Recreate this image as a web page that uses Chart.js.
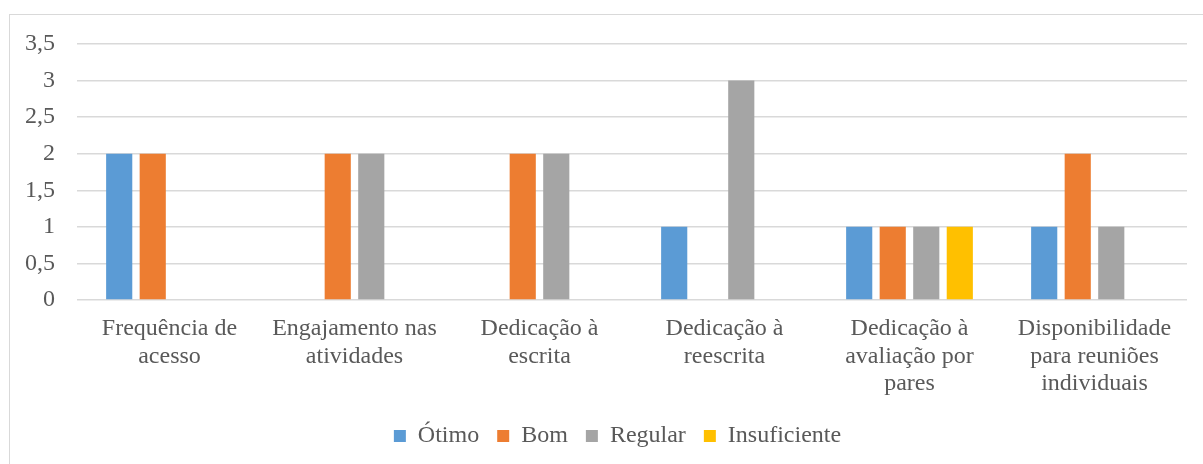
<!DOCTYPE html>
<html lang="pt">
<head>
<meta charset="UTF-8">
<title>Avaliação das atividades</title>
<script src="https://cdn.jsdelivr.net/npm/chart.js"></script>
<style>
  body { margin: 0; background: #fff; }
  #wrap { position: relative; width: 1203px; height: 464px; overflow: hidden; }
  #frame { position: absolute; left: 9px; top: 14px; width: 1200px; height: 470px; border: 1px solid #d9d9d9; box-sizing: border-box; }
  #grafico { position: absolute; left: 0; top: 0; }
</style>
</head>
<body>
<div id="wrap">
  <div id="frame"></div>
  <canvas id="grafico" width="1203" height="464"></canvas>
</div>
<script>
const categorias = [
  ['Frequência de', 'acesso'],
  ['Engajamento nas', 'atividades'],
  ['Dedicação à', 'escrita'],
  ['Dedicação à', 'reescrita'],
  ['Dedicação à', 'avaliação por', 'pares'],
  ['Disponibilidade', 'para reuniões', 'individuais']
];
const otimo = [2, 0, 0, 1, 1, 1];
const bom = [2, 2, 2, 0, 1, 2];
const regular = [0, 2, 2, 3, 1, 1];
const insuficiente = [0, 0, 0, 0, 1, 0];
const ticksY = [0, 0.5, 1, 1.5, 2, 2.5, 3, 3.5];

const fonte = { family: '"Liberation Serif", "Times New Roman", serif', size: 24 };
const corTexto = '#595959';

function serie(nome, dados, cor) {
  return { label: nome, data: dados, backgroundColor: cor, borderWidth: 0,
           categoryPercentage: 0.725, barPercentage: 0.78 };
}

// empurra a legenda um pouco para a direita
const deslocaLegenda = {
  id: 'deslocaLegenda',
  afterLayout(chart) {
    if (chart.legend) { chart.legend.left += 24; chart.legend.right += 24; }
  }
};

new Chart(document.getElementById('grafico'), {
  type: 'bar',
  data: {
    labels: categorias,
    datasets: [
      serie('Ótimo', otimo, '#5B9BD5'),
      serie('Bom', bom, '#ED7D31'),
      serie('Regular', regular, '#A5A5A5'),
      serie('Insuficiente', insuficiente, '#FFC000')
    ]
  },
  plugins: [deslocaLegenda],
  options: {
    responsive: false,
    animation: false,
    layout: { padding: { top: 44, right: 16, left: 0, bottom: 6 } },
    plugins: {
      tooltip: { enabled: false },
      legend: {
        position: 'bottom',
        labels: { font: fonte, color: corTexto, boxWidth: 12, boxHeight: 12, padding: 18 }
      }
    },
    scales: {
      x: {
        grid: { display: false, drawTicks: false },
        border: { display: false },
        ticks: { font: { ...fonte, lineHeight: 1.15 }, color: corTexto, maxRotation: 0, autoSkip: false, padding: 15 },
        afterFit: s => { s.height = 106; }
      },
      y: {
        min: 0,
        max: 3.5,
        afterBuildTicks: s => { s.ticks = ticksY.map(v => ({ value: v })); },
        grid: { color: '#d9d9d9', lineWidth: 1.5, drawTicks: false },
        border: { display: false },
        ticks: {
          font: fonte, color: corTexto, padding: 22,
          callback: v => String(v).replace('.', ',')
        },
        afterFit: s => { s.width = 77; }
      }
    }
  }
});
</script>
</body>
</html>
